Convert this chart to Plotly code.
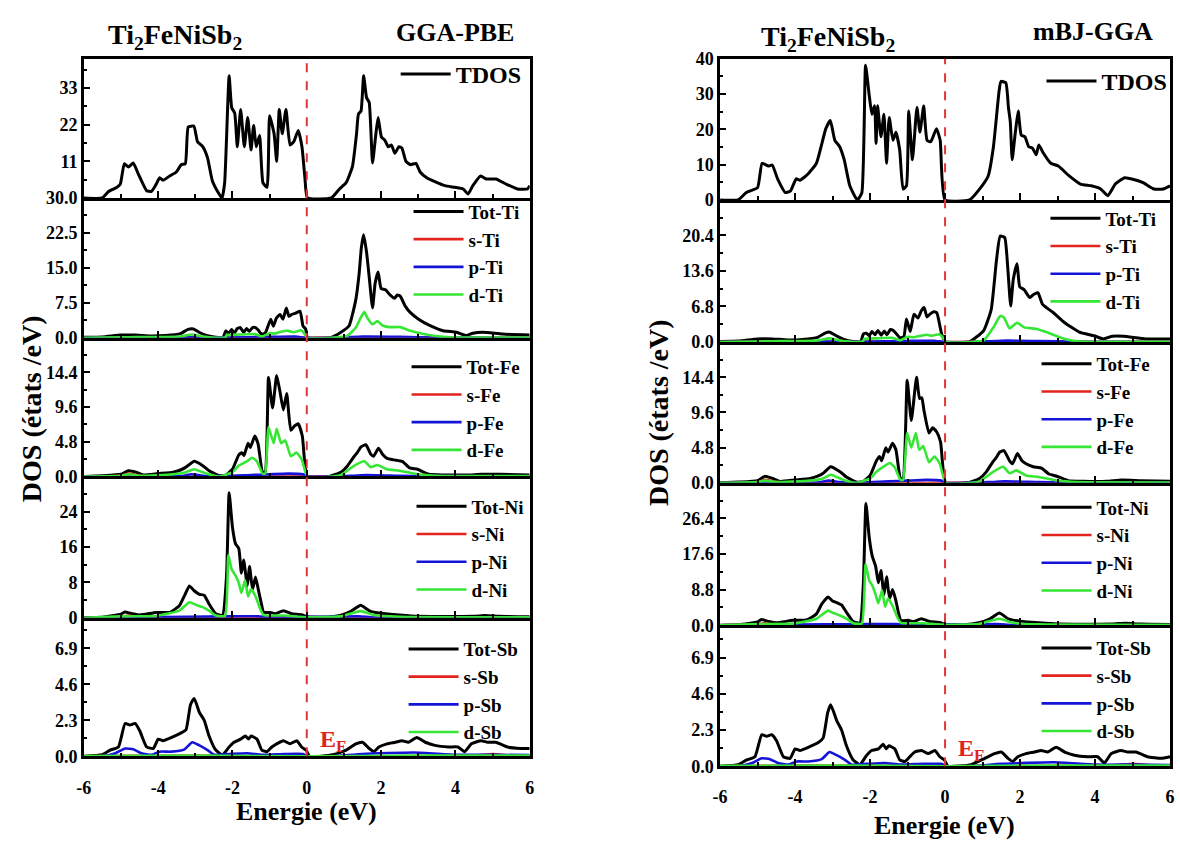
import numpy as np
import plotly.graph_objects as go

# ------------------------------------------------------------------ data
# ---- GGA-PBE (left column)
L_TDOS_E = [-6, -5.51, -5.33, -5.11, -5.02, -4.91, -4.80, -4.67, -4.53, -4.31, -4.18, -4.05, -3.96, -3.87,
            -3.69, -3.51, -3.38, -3.27, -3.19, -3.04, -2.94, -2.80, -2.67, -2.54, -2.36, -2.28, -2.21, -2.09,
            -2.02, -1.94, -1.87, -1.78, -1.68, -1.59, -1.50, -1.43, -1.36, -1.27, -1.18, -1.07, -1.00, -0.88,
            -0.81, -0.74, -0.66, -0.56, -0.45, -0.35, -0.23, -0.13, -0.05, 0.02, 0.66, 0.88, 1.06, 1.23, 1.34,
            1.39, 1.46, 1.53, 1.61, 1.68, 1.77, 1.86, 1.92, 2.01, 2.10, 2.19, 2.28, 2.37, 2.48, 2.56, 2.67,
            2.79, 2.94, 3.05, 3.23, 3.45, 3.72, 3.98, 4.21, 4.34, 4.47, 4.68, 4.83, 5.09, 5.36, 5.67, 5.94, 6.0]
L_TDOS = [0, 0, 2.0, 3.2, 4.1, 10.3, 9.3, 10.5, 7.1, 2.2, 2.0, 4.2, 6.1, 5.3,
          6.6, 7.8, 10.0, 10.3, 21.3, 21.6, 16.9, 15.4, 12.0, 5.1, 1.2, 0, 4.6, 36.7,
          27.1, 25.5, 15.4, 26.6, 15.4, 24.2, 14.4, 21.8, 15.4, 18.8, 4.6, 3.2, 24.7, 19.3,
          11.0, 26.6, 19.3, 26.6, 15.9, 16.9, 20.3, 15.4, 6.1, 0, 0, 2.7, 4.6, 9.5, 19.3,
          25.2, 26.1, 36.7, 30.1, 28.7, 10.5, 19.3, 24.2, 18.3, 17.4, 15.4, 15.9, 13.4, 15.4, 15.0, 11.0,
          10.0, 10.4, 7.8, 6.1, 4.9, 3.7, 3.2, 2.7, 1.2, 3.7, 6.6, 5.7, 5.7, 4.2, 2.7, 2.7, 3.7]

L_TI_E = [-6, -5.5, -5.0, -4.6, -4.2, -3.8, -3.4, -3.2, -3.05, -2.9, -2.7, -2.45, -2.25, -2.18, -2.1, -2.02,
          -1.95, -1.87, -1.79, -1.7, -1.62, -1.55, -1.46, -1.38, -1.3, -1.22, -1.12, -0.97, -0.9, -0.82,
          -0.72, -0.64, -0.55, -0.48, -0.41, -0.3, -0.18, -0.1, -0.03, 0.02, 0.66, 0.92, 1.14, 1.32, 1.41,
          1.47, 1.53, 1.61, 1.68, 1.77, 1.84, 1.92, 2.0, 2.12, 2.24, 2.36, 2.44, 2.52, 2.65, 2.79, 3.01,
          3.32, 3.67, 4.03, 4.29, 4.47, 4.74, 5.27, 6.0]
L_TI_TOT = [0.1, 0.2, 0.6, 0.6, 0.4, 0.5, 0.9, 1.8, 1.9, 1.2, 0.5, 0.1, 0.1, 1.5, 1.0, 1.8,
            1.0, 2.0, 2.2, 1.2, 2.0, 1.4, 2.2, 2.2, 1.6, 0.8, 1.0, 4.0, 2.5, 4.2,
            5.0, 4.0, 6.4, 4.6, 5.0, 5.3, 5.7, 2.5, 1.9, 0, 0.1, 1.2, 2.6, 8.2, 13.8,
            19.4, 22.1, 18.3, 13.1, 6.4, 11.7, 14.1, 10.6, 10.3, 9.2, 8.5, 9.2, 8.9, 6.8, 5.4, 4.0,
            2.6, 1.5, 1.2, 0.5, 1.0, 1.2, 0.8, 0.6]
L_TI_D_E = [-6, -5, -4.6, -3.4, -3.1, -2.8, -2.4, -2.2, -2.15, -1.8, -1.4, -1.2, -1.0, -0.85, -0.7, -0.5,
            -0.35, -0.15, -0.05, 0.02, 0.7, 0.83, 1.09, 1.32, 1.45, 1.55, 1.63, 1.77, 1.90, 2.03, 2.21,
            2.52, 2.79, 3.14, 3.67, 4.2, 6.0]
L_TI_D = [0, 0.1, 0.15, 0.3, 0.7, 0.3, 0, 0.1, 0.6, 0.7, 0.8, 0.3, 1.0, 0.9, 1.3, 1.5,
          1.2, 1.6, 0.8, 0, 0, 0.1, 0.4, 2.2, 4.3, 5.6, 4.3, 2.9, 3.6, 2.7, 2.3,
          2.3, 1.5, 0.8, 0.2, 0.05, 0.05]
L_TI_P_E = [-6, -3.2, -2.2, -1.0, -0.3, 0.0, 0.9, 1.5, 2.5, 3.5, 6.0]
L_TI_P = [0, 0.1, 0.05, 0.2, 0.25, 0, 0.05, 0.25, 0.2, 0.05, 0]
L_TI_S_E = [-6, -4.8, 0.0, 1.5, 6.0]
L_TI_S = [0, 0.05, 0, 0.05, 0.02]

L_FE_E = [-6, -5.5, -5.0, -4.8, -4.6, -4.4, -4.0, -3.6, -3.4, -3.25, -3.03, -2.80, -2.63, -2.36, -2.18,
          -2.0, -1.83, -1.75, -1.69, -1.58, -1.52, -1.40, -1.31, -1.19, -1.12, -1.03, -0.92, -0.81, -0.72,
          -0.63, -0.54, -0.43, -0.33, -0.23, -0.12, 0.02, 0.6, 0.92, 1.1, 1.28, 1.36, 1.46, 1.59, 1.72,
          1.80, 1.93, 2.05, 2.16, 2.35, 2.57, 2.77, 2.98, 3.28, 3.69, 4.3, 4.71, 5.22, 6.0]
L_FE_TOT = [0, 0.1, 0.3, 0.8, 0.6, 0.2, 0.4, 0.6, 0.9, 1.3, 2.1, 1.5, 0.8, 0.1, 0.2,
            1.0, 3.0, 3.3, 2.9, 4.6, 4.0, 5.6, 4.5, 0.6, 0.6, 13.7, 9.5, 14.0, 11.7,
            9.2, 11.5, 6.4, 7.0, 7.3, 5.6, 0, 0, 0.6, 1.5, 2.8, 3.3, 4.1, 4.4, 3.1,
            2.8, 3.9, 3.0, 2.5, 2.3, 2.1, 1.2, 1.0, 0.3, 0.2, 0.2, 0.3, 0.3, 0.2]
L_FE_D_E = [-6, -5.0, -4.8, -4.5, -3.6, -3.25, -3.03, -2.71, -2.36, -2.0, -1.83, -1.61, -1.47, -1.34,
            -1.19, -1.12, -1.03, -0.89, -0.81, -0.69, -0.58, -0.43, -0.28, -0.14, 0.02, 0.7, 0.92, 1.28,
            1.55, 1.72, 1.9, 2.16, 2.5, 3.0, 3.5, 6.0]
L_FE_D = [0, 0.1, 0.3, 0.1, 0.3, 0.6, 1.0, 0.4, 0, 0.6, 1.5, 2.1, 2.6, 2.1,
          0.4, 0.4, 6.8, 4.6, 6.6, 4.6, 5.0, 2.8, 3.3, 2.4, 0, 0, 0.2, 1.5,
          2.1, 1.3, 1.6, 1.0, 0.8, 0.3, 0.1, 0.05]
L_FE_S_E = [-6, -5.0, -4.8, -4.6, -4.3, 0.0, 6.0]
L_FE_S = [0, 0.1, 0.4, 0.2, 0, 0, 0]
L_FE_P_E = [-6, -3.4, -3.1, -2.8, -2.2, -1.5, -1.0, -0.5, -0.1, 0.02, 1.2, 1.6, 2.5, 3.2, 6.0]
L_FE_P = [0, 0.05, 0.3, 0.1, 0.05, 0.2, 0.3, 0.4, 0.3, 0, 0.1, 0.2, 0.1, 0.05, 0]

L_NI_E = [-6, -5.5, -5.0, -4.9, -4.7, -4.5, -4.05, -3.69, -3.43, -3.29, -3.16, -3.03, -2.89, -2.76, -2.63,
          -2.45, -2.27, -2.16, -2.09, -2.0, -1.92, -1.83, -1.76, -1.70, -1.60, -1.54, -1.46, -1.38, -1.30,
          -1.22, -1.16, -0.98, -0.85, -0.63, -0.41, -0.14, 0.0, 0.5, 0.9, 1.2, 1.45, 1.7, 2.0, 2.5, 3.0,
          4.5, 4.8, 5.2, 6.0]
L_NI_TOT = [0, 0.1, 0.8, 1.3, 0.9, 0.6, 1.2, 1.2, 2.7, 5.0, 7.2, 6.1, 5.3, 5.1, 3.1,
            0.9, 0.5, 9.4, 28.3, 20.5, 16.8, 15.7, 10.1, 13.1, 7.2, 11.6, 6.4, 9.2, 6.2,
            3.1, 1.2, 1.2, 0.9, 1.6, 0.9, 0.7, 0.2, 0.1, 0.5, 1.5, 2.8, 1.5, 1.0, 0.6, 0.3,
            0.3, 0.5, 0.3, 0.2]
L_NI_D_E = [-6, -5, -4.05, -3.43, -3.16, -2.98, -2.80, -2.63, -2.45, -2.2, -2.11, -2.02, -1.92, -1.83,
            -1.76, -1.66, -1.58, -1.50, -1.38, -1.25, -1.16, -0.6, 0.0, 0.9, 1.45, 1.8, 2.5, 6.0]
L_NI_D = [0, 0.3, 0.4, 1.6, 3.5, 2.9, 2.4, 1.6, 0.5, 0.4, 14.2, 10.9, 9.6, 7.9,
          5.6, 8.5, 4.8, 6.5, 4.9, 1.9, 0.6, 0.5, 0.1, 0.3, 1.5, 0.6, 0.2, 0.1]
L_NI_S_E = [-6, -5.0, -4.8, -4.6, -4.3, 6.0]
L_NI_S = [0, 0.2, 0.5, 0.2, 0, 0]
L_NI_P_E = [-6, -3.2, -2.1, -1.3, -1.0, 1.4, 1.8, 6.0]
L_NI_P = [0, 0.2, 0.3, 0.3, 0.05, 0.3, 0.05, 0]

L_SB_E = [-6, -5.51, -5.29, -5.07, -4.89, -4.76, -4.62, -4.49, -4.31, -4.13, -4.0, -3.87, -3.65, -3.38,
          -3.25, -3.13, -3.03, -2.89, -2.76, -2.63, -2.45, -2.27, -2.09, -1.96, -1.78, -1.65, -1.57, -1.50,
          -1.34, -1.21, -1.07, -0.94, -0.81, -0.63, -0.45, -0.27, -0.14, -0.02, 0.08, 0.70, 1.06, 1.32,
          1.50, 1.68, 1.81, 1.94, 2.16, 2.39, 2.56, 2.74, 2.96, 3.19, 3.45, 3.81, 4.07, 4.25, 4.43, 4.69,
          4.87, 5.09, 5.40, 5.76, 6.0]
L_SB_TOT = [0, 0.1, 0.4, 0.6, 2.1, 2.0, 2.1, 1.6, 0.6, 0.5, 1.1, 1.0, 1.2, 1.5,
            1.7, 3.3, 3.7, 2.8, 2.3, 1.3, 0.4, 0.1, 0.6, 0.9, 1.1, 1.3, 1.1, 1.3,
            1.1, 0.4, 0.3, 0.6, 0.8, 1.0, 0.8, 1.0, 0.6, 0.4, 0, 0.1, 0.4, 0.8,
            0.9, 0.5, 0.3, 0.6, 0.8, 0.9, 1.0, 0.9, 1.2, 0.9, 0.7, 0.6, 0.6, 0.3, 0.8, 1.0,
            0.9, 0.9, 0.6, 0.5, 0.5]
L_SB_P_E = [-6, -5.51, -5.15, -4.89, -4.67, -4.45, -4.18, -3.96, -3.65, -3.29, -3.08, -2.89, -2.67, -2.49,
            -2.09, -1.6, -1.2, -0.6, -0.1, 0.05, 0.7, 1.5, 2.9, 4.0, 5.0, 6.0]
L_SB_P = [0, 0, 0.2, 0.5, 0.45, 0.2, 0.1, 0.3, 0.3, 0.45, 0.9, 0.7, 0.4, 0.1,
          0.15, 0.2, 0.1, 0.15, 0.15, 0, 0, 0.15, 0.25, 0.1, 0.1, 0.08]
L_SB_S_E = [-6, -5, -3, 0, 4.5, 5.0, 5.5, 6]
L_SB_S = [0, 0.03, 0.05, 0, 0.05, 0.15, 0.05, 0.03]
L_SB_D_E = [-6, -3, 0, 3, 6]
L_SB_D = [0.02, 0.05, 0, 0.05, 0.05]

# ---- mBJ-GGA (right column)
R_TDOS_E = [-6, -5.52, -5.30, -5.00, -4.88, -4.71, -4.61, -4.46, -4.26, -4.12, -3.97, -3.87, -3.67, -3.43,
            -3.18, -3.06, -2.94, -2.81, -2.69, -2.54, -2.34, -2.22, -2.12, -2.02, -1.95, -1.88, -1.84, -1.80,
            -1.71, -1.63, -1.56, -1.49, -1.39, -1.31, -1.21, -1.12, -1.03, -0.97, -0.87, -0.75, -0.67, -0.57,
            -0.48, -0.38, -0.23, -0.13, 0.0, 0.65, 0.95, 1.15, 1.29, 1.44, 1.49, 1.62, 1.69, 1.74, 1.79, 1.87,
            1.95, 2.03, 2.13, 2.23, 2.33, 2.43, 2.50, 2.62, 2.82, 3.02, 3.31, 3.61, 3.90, 4.15, 4.34, 4.54,
            4.79, 5.03, 5.28, 5.57, 5.82, 6.0]
R_TDOS = [0, 0, 2.1, 3.5, 10.4, 9.6, 9.9, 5.8, 2.1, 2.6, 6.0, 5.6, 7.2, 10.4,
          20.2, 22.5, 16.9, 15.1, 11.4, 4.0, 0, 2.0, 38.2, 29.4, 24.3, 26.7, 16.0, 26.7,
          17.9, 24.3, 10.4, 23.4, 16.9, 19.2, 14.2, 3.1, 4.0, 25.2, 11.4, 26.2, 19.2, 26.6,
          16.9, 16.5, 20.2, 16.9, 0, 0, 3.5, 6.8, 15.1, 30.8, 33.6, 33.2, 26.2, 22.1, 11.4, 18.8,
          25.2, 18.4, 17.9, 15.1, 14.7, 12.8, 15.6, 13.3, 10.4, 9.6, 6.8, 4.5, 4.0, 3.1, 1.2, 4.5,
          6.3, 5.8, 4.9, 3.1, 3.1, 4.0]

R_TI_E = [-6, -5.5, -5.0, -4.6, -4.2, -3.8, -3.4, -3.2, -3.09, -2.9, -2.7, -2.45, -2.25, -2.18, -2.1, -2.02,
          -1.95, -1.87, -1.79, -1.7, -1.62, -1.55, -1.46, -1.38, -1.3, -1.2, -1.1, -1.03, -0.93, -0.83,
          -0.72, -0.64, -0.56, -0.48, -0.41, -0.3, -0.22, -0.09, 0.02, 0.64, 1.03, 1.23, 1.37, 1.47, 1.59,
          1.67, 1.75, 1.82, 1.92, 1.99, 2.11, 2.26, 2.36, 2.48, 2.60, 2.89, 3.19, 3.58, 3.97, 4.22, 4.46,
          4.76, 5.35, 6.0]
R_TI_TOT = [0.1, 0.2, 0.6, 0.6, 0.4, 0.5, 0.9, 1.7, 1.9, 1.2, 0.5, 0.1, 0.1, 1.5, 1.7, 1.2,
            2.0, 1.4, 2.2, 1.3, 2.1, 1.4, 2.4, 2.2, 1.6, 0.8, 1.0, 4.4, 2.0, 5.3,
            4.6, 5.9, 6.6, 4.8, 5.3, 5.8, 5.6, 1.5, 0, 0, 2.2, 6.2, 15.6, 20.3, 20.0,
            14.4, 6.9, 12.0, 15.0, 10.6, 10.0, 8.5, 9.1, 9.4, 7.2, 5.6, 3.7, 1.9, 1.2, 0.6, 1.1,
            1.1, 0.6, 0.6]
R_TI_D_E = [-6, -5, -4.6, -3.4, -3.1, -2.8, -2.4, -2.2, -2.15, -1.8, -1.4, -1.2, -1.0, -0.85, -0.64,
            -0.5, -0.35, -0.15, -0.05, 0.02, 0.7, 1.03, 1.29, 1.47, 1.57, 1.72, 1.92, 2.11, 2.45, 2.7,
            3.19, 3.58, 6.0]
R_TI_D = [0, 0.1, 0.15, 0.3, 0.7, 0.3, 0, 0.1, 0.6, 0.7, 0.8, 0.3, 1.0, 0.9, 1.2,
          1.4, 1.2, 1.5, 0.8, 0, 0, 0.3, 2.8, 5.0, 4.7, 2.6, 3.7, 2.8, 2.5, 1.9,
          0.6, 0.1, 0.05]
R_TI_P_E = [-6, -3.2, -2.2, -1.0, -0.3, 0.0, 0.9, 1.5, 2.5, 3.5, 6.0]
R_TI_P = [0, 0.1, 0.05, 0.2, 0.25, 0, 0.05, 0.25, 0.2, 0.05, 0]
R_TI_S_E = [-6, -4.8, 0.0, 1.5, 6.0]
R_TI_S = [0, 0.05, 0, 0.05, 0.02]

R_FE_E = [-6, -5.5, -5.0, -4.8, -4.6, -4.4, -4.0, -3.6, -3.4, -3.25, -3.05, -2.80, -2.63, -2.36, -2.18,
          -2.0, -1.83, -1.75, -1.69, -1.58, -1.52, -1.40, -1.31, -1.19, -1.12, -1.01, -0.90, -0.76, -0.68,
          -0.62, -0.56, -0.43, -0.33, -0.23, -0.12, 0.02, 0.6, 0.92, 1.1, 1.28, 1.36, 1.46, 1.57, 1.72,
          1.80, 1.93, 2.05, 2.16, 2.35, 2.57, 2.77, 2.98, 3.28, 3.69, 4.3, 4.71, 5.22, 6.0]
R_FE_TOT = [0, 0.1, 0.3, 0.9, 0.6, 0.2, 0.4, 0.6, 0.9, 1.3, 2.2, 1.5, 0.8, 0.1, 0.2,
            1.0, 3.0, 3.6, 3.0, 4.8, 4.2, 5.4, 4.5, 0.6, 0.6, 14.0, 8.5, 14.4, 11.5,
            11.6, 9.8, 6.8, 7.5, 7.0, 5.6, 0, 0, 0.6, 1.5, 2.9, 3.4, 4.2, 4.4, 3.0,
            2.6, 4.0, 3.0, 2.6, 2.2, 2.0, 1.2, 0.9, 0.3, 0.2, 0.2, 0.4, 0.3, 0.2]
R_FE_D_E = [-6, -5.0, -4.8, -4.5, -3.6, -3.25, -3.05, -2.71, -2.36, -2.0, -1.83, -1.61, -1.47, -1.34,
            -1.19, -1.12, -1.01, -0.90, -0.78, -0.69, -0.58, -0.43, -0.28, -0.14, 0.02, 0.7, 0.92, 1.28,
            1.55, 1.72, 1.9, 2.16, 2.5, 3.0, 3.5, 6.0]
R_FE_D = [0, 0.1, 0.3, 0.1, 0.3, 0.6, 1.1, 0.4, 0, 0.6, 1.5, 2.3, 2.7, 2.1,
          0.4, 0.4, 6.8, 4.8, 6.8, 4.5, 5.0, 2.8, 3.6, 2.6, 0, 0, 0.2, 1.5,
          2.2, 1.3, 1.7, 1.0, 0.8, 0.3, 0.1, 0.05]
R_FE_S_E = [-6, -5.0, -4.8, -4.6, -4.3, 0.0, 6.0]
R_FE_S = [0, 0.1, 0.4, 0.2, 0, 0, 0]
R_FE_P_E = [-6, -3.4, -3.1, -2.8, -2.2, -1.5, -1.0, -0.5, -0.1, 0.02, 1.2, 1.6, 2.5, 3.2, 6.0]
R_FE_P = [0, 0.05, 0.3, 0.1, 0.05, 0.2, 0.3, 0.4, 0.3, 0, 0.1, 0.2, 0.1, 0.05, 0]

R_NI_E = [-6, -5.5, -5.0, -4.9, -4.7, -4.5, -4.05, -3.69, -3.43, -3.29, -3.12, -3.0, -2.89, -2.76, -2.63,
          -2.45, -2.27, -2.18, -2.11, -2.02, -1.94, -1.85, -1.78, -1.71, -1.63, -1.56, -1.48, -1.40, -1.32,
          -1.24, -1.18, -0.98, -0.85, -0.63, -0.41, -0.14, 0.0, 0.5, 0.9, 1.2, 1.45, 1.7, 2.0, 2.5, 3.0,
          4.5, 4.8, 5.2, 6.0]
R_NI_TOT = [0, 0.1, 0.8, 1.4, 0.9, 0.6, 1.2, 1.3, 2.8, 5.2, 7.0, 6.0, 5.6, 5.0, 3.2,
            0.9, 0.5, 10.0, 30.1, 21.5, 17.0, 14.5, 10.5, 13.5, 7.5, 12.0, 6.6, 8.8, 6.4,
            3.0, 1.2, 1.2, 0.9, 1.6, 0.9, 0.7, 0.2, 0.1, 0.6, 1.6, 3.0, 1.5, 1.0, 0.6, 0.3,
            0.3, 0.5, 0.3, 0.2]
R_NI_D_E = [-6, -5, -4.05, -3.43, -3.12, -2.98, -2.80, -2.63, -2.45, -2.22, -2.12, -2.02, -1.94, -1.85,
            -1.78, -1.68, -1.6, -1.52, -1.40, -1.27, -1.18, -0.6, 0.0, 0.9, 1.45, 1.8, 2.5, 6.0]
R_NI_D = [0, 0.3, 0.4, 1.6, 3.6, 3.0, 2.4, 1.6, 0.5, 0.4, 15.1, 11.0, 9.8, 7.5,
          5.4, 8.6, 4.6, 6.6, 4.8, 1.9, 0.6, 0.5, 0.1, 0.3, 1.6, 0.6, 0.2, 0.1]
R_NI_S_E = [-6, -5.0, -4.8, -4.6, -4.3, 6.0]
R_NI_S = [0, 0.2, 0.5, 0.2, 0, 0]
R_NI_P_E = [-6, -3.2, -2.1, -1.3, -1.0, 1.4, 1.8, 6.0]
R_NI_P = [0, 0.2, 0.3, 0.3, 0.05, 0.3, 0.05, 0]

R_SB_E = [-6, -5.51, -5.29, -5.07, -4.89, -4.76, -4.62, -4.49, -4.31, -4.13, -4.0, -3.87, -3.65, -3.38,
          -3.25, -3.13, -3.05, -2.89, -2.76, -2.63, -2.45, -2.27, -2.09, -1.96, -1.78, -1.65, -1.57, -1.50,
          -1.34, -1.21, -1.07, -0.94, -0.81, -0.63, -0.45, -0.27, -0.14, -0.02, 0.08, 0.70, 1.06, 1.32,
          1.50, 1.68, 1.81, 1.94, 2.16, 2.39, 2.56, 2.74, 2.96, 3.19, 3.45, 3.81, 4.07, 4.25, 4.43, 4.69,
          4.87, 5.09, 5.40, 5.76, 6.0]
R_SB_TOT = [0, 0.1, 0.4, 0.6, 2.0, 1.9, 2.0, 1.6, 0.6, 0.5, 1.1, 1.0, 1.2, 1.5,
            1.8, 3.4, 3.9, 2.9, 2.3, 1.3, 0.4, 0.1, 0.7, 1.0, 1.1, 1.4, 1.1, 1.3,
            1.1, 0.4, 0.3, 0.6, 0.9, 1.0, 0.8, 1.0, 0.6, 0.4, 0, 0.1, 0.5, 0.8,
            0.9, 0.5, 0.3, 0.6, 0.8, 0.9, 1.0, 0.9, 1.2, 0.9, 0.7, 0.6, 0.6, 0.2, 0.8, 1.0,
            0.9, 0.9, 0.6, 0.5, 0.6]
R_SB_P_E = [-6, -5.51, -5.15, -4.89, -4.67, -4.45, -4.18, -3.96, -3.65, -3.29, -3.08, -2.89, -2.67, -2.49,
            -2.09, -1.6, -1.2, -0.6, -0.1, 0.05, 0.7, 1.5, 2.9, 4.0, 5.0, 6.0]
R_SB_P = [0, 0, 0.2, 0.5, 0.45, 0.2, 0.1, 0.3, 0.3, 0.45, 0.9, 0.7, 0.4, 0.1,
          0.15, 0.2, 0.1, 0.15, 0.15, 0, 0, 0.15, 0.25, 0.1, 0.1, 0.08]
R_SB_S_E = [-6, -5, -3, 0, 4.5, 5.0, 5.5, 6]
R_SB_S = [0, 0.03, 0.05, 0, 0.05, 0.15, 0.05, 0.03]
R_SB_D_E = [-6, -3, 0, 3, 6]
R_SB_D = [0.02, 0.05, 0, 0.05, 0.05]

X_TICKS = [-6, -4, -2, 0, 2, 4, 6]
X_TICK_TEXT = ["-6", "-4", "-2", "0", "2", "4", "6"]

# ------------------------------------------------------------------ styling
FONT = "'Liberation Serif', 'Times New Roman', Times, serif"
BLACK, RED, BLUE, GREEN = "#000000", "#e3231d", "#1414d8", "#35e635"
W, H = 1180, 852


def fx(px):
    return px / W


def fy(py):
    return 1 - py / H


LEFT_X = (76.7, 527.5)
RIGHT_X = (720.0, 1175.0)
LEFT_Y = [50, 192.5, 335.7, 477.7, 622.3, 764.3]
RIGHT_Y = [50, 194.5, 340.0, 484.2, 630.0, 774.4]


def comp(el, tot, s, p, d):
    return [("Tot-" + el, tot[0], tot[1], BLACK), ("s-" + el, s[0], s[1], RED),
            ("p-" + el, p[0], p[1], BLUE), ("d-" + el, d[0], d[1], GREEN)]


left_panels = [
    dict(traces=[("TDOS", L_TDOS_E, L_TDOS, BLACK)], rng=[0, 41.8],
         tv=[0, 11, 22, 33], tt=["", "11", "22", "33"], mstep=5.5, leg=(452, 73)),
    dict(traces=comp("Ti", (L_TI_E, L_TI_TOT), (L_TI_S_E, L_TI_S), (L_TI_P_E, L_TI_P), (L_TI_D_E, L_TI_D)),
         rng=[0, 30], tv=[0, 7.5, 15, 22.5, 30], tt=["0.0", "7.5", "15.0", "22.5", "30.0"], mstep=3.75,
         leg=(465, 212)),
    dict(traces=comp("Fe", (L_FE_E, L_FE_TOT), (L_FE_S_E, L_FE_S), (L_FE_P_E, L_FE_P), (L_FE_D_E, L_FE_D)),
         rng=[0, 19.2], tv=[0, 4.8, 9.6, 14.4], tt=["0.0", "4.8", "9.6", "14.4"], mstep=2.4, leg=(463, 371)),
    dict(traces=comp("Ni", (L_NI_E, L_NI_TOT), (L_NI_S_E, L_NI_S), (L_NI_P_E, L_NI_P), (L_NI_D_E, L_NI_D)),
         rng=[0, 32], tv=[0, 8, 16, 24], tt=["0", "8", "16", "24"], mstep=4, leg=(468, 514)),
    dict(traces=comp("Sb", (L_SB_E, L_SB_TOT), (L_SB_S_E, L_SB_S), (L_SB_P_E, L_SB_P), (L_SB_D_E, L_SB_D)),
         rng=[0, 8.85], tv=[0, 2.3, 4.6, 6.9], tt=["0.0", "2.3", "4.6", "6.9"], mstep=1.15, leg=(460, 660)),
]
right_panels = [
    dict(traces=[("TDOS", R_TDOS_E, R_TDOS, BLACK)], rng=[0, 40],
         tv=[0, 10, 20, 30, 40], tt=["0", "10", "20", "30", "40"], mstep=5, leg=(1105, 80)),
    dict(traces=comp("Ti", (R_TI_E, R_TI_TOT), (R_TI_S_E, R_TI_S), (R_TI_P_E, R_TI_P), (R_TI_D_E, R_TI_D)),
         rng=[0, 27.2], tv=[0, 6.8, 13.6, 20.4], tt=["0.0", "6.8", "13.6", "20.4"], mstep=3.4, leg=(1109, 219)),
    dict(traces=comp("Fe", (R_FE_E, R_FE_TOT), (R_FE_S_E, R_FE_S), (R_FE_P_E, R_FE_P), (R_FE_D_E, R_FE_D)),
         rng=[0, 19.2], tv=[0, 4.8, 9.6, 14.4], tt=["0.0", "4.8", "9.6", "14.4"], mstep=2.4, leg=(1100, 368)),
    dict(traces=comp("Ni", (R_NI_E, R_NI_TOT), (R_NI_S_E, R_NI_S), (R_NI_P_E, R_NI_P), (R_NI_D_E, R_NI_D)),
         rng=[0, 35.2], tv=[0, 8.8, 17.6, 26.4], tt=["0.0", "8.8", "17.6", "26.4"], mstep=4.4, leg=(1100, 515)),
    dict(traces=comp("Sb", (R_SB_E, R_SB_TOT), (R_SB_S_E, R_SB_S), (R_SB_P_E, R_SB_P), (R_SB_D_E, R_SB_D)),
         rng=[0, 8.95], tv=[0, 2.3, 4.6, 6.9], tt=["0.0", "2.3", "4.6", "6.9"], mstep=1.15, leg=(1100, 659)),
]

fig = go.Figure()
layout = dict(width=W, height=H, margin=dict(l=0, r=0, t=0, b=0), paper_bgcolor="white",
              plot_bgcolor="white", showlegend=True, font=dict(family=FONT, color="black"))

tickfont = dict(family=FONT, size=18, color="black", weight="bold")
LW = 2.6
ITEMW = 50

idx = 0
for col, (panels, xs, ys) in enumerate([(left_panels, LEFT_X, LEFT_Y), (right_panels, RIGHT_X, RIGHT_Y)]):
    for k, p in enumerate(panels):
        idx += 1
        sfx = "" if idx == 1 else str(idx)
        legname = "legend" + sfx
        for j, (name, e, d, color) in enumerate(p["traces"]):
            fig.add_trace(go.Scatter(
                x=e, y=d, mode="lines", name="<b>%s</b>" % name,
                line=dict(color=color, width=3 if color == BLACK else 2.6, shape="spline", smoothing=0.45),
                xaxis="x" + sfx, yaxis="y" + sfx, legend=legname,
                legendgroup="g%d_%d" % (idx, j), hoverinfo="skip"))
        bottom = (k == len(panels) - 1)
        top = (k == 0)
        layout["xaxis" + sfx] = dict(
            domain=[fx(xs[0]), fx(xs[1])], anchor="y" + sfx, range=[-6, 6],
            showline=True, linecolor="black", linewidth=LW, mirror=top,
            ticks="inside", ticklen=7, tickwidth=2, tickcolor="black",
            tickmode="array", tickvals=X_TICKS, ticktext=X_TICK_TEXT,
            showticklabels=bottom, tickfont=tickfont, ticklabelstandoff=13 if col == 0 else 12,
            minor=dict(tickmode="array", tickvals=[-5, -3, -1, 1, 3, 5], ticks="inside",
                       ticklen=4, tickwidth=1.5, tickcolor="black", showgrid=False),
            showgrid=False, zeroline=False, fixedrange=True)
        mvals = [v for v in np.arange(0, p["rng"][1] + 1e-9, p["mstep"]) if v not in p["tv"]]
        layout["yaxis" + sfx] = dict(
            domain=[fy(ys[k + 1]), fy(ys[k])], anchor="x" + sfx, range=p["rng"],
            showline=True, linecolor="black", linewidth=LW, mirror=True,
            ticks="inside", ticklen=6, tickwidth=2, tickcolor="black",
            tickmode="array", tickvals=p["tv"], ticktext=p["tt"], tickfont=tickfont,
            minor=dict(tickmode="array", tickvals=mvals, ticks="inside", ticklen=3.5,
                       tickwidth=1.5, tickcolor="black", showgrid=False),
            showgrid=False, zeroline=False, fixedrange=True)
        tx, ty = p["leg"]
        single = len(p["traces"]) == 1
        layout[legname] = dict(
            x=fx(tx - ITEMW - 10), y=fy(ty - (30 if single else 25)), xanchor="left", yanchor="top",
            bgcolor="rgba(0,0,0,0)", borderwidth=0, tracegroupgap=0, itemwidth=ITEMW,
            font=dict(family=FONT, size=24 if single else 19, color="black"),
            itemclick=False, itemdoubleclick=False)

fig.update_layout(**layout)

# Fermi level dashed lines
for xref, ys in (("x", LEFT_Y), ("x6", RIGHT_Y)):
    fig.add_shape(type="line", xref=xref, yref="paper", x0=0, x1=0,
                  y0=fy(ys[-1]), y1=fy(ys[0]), line=dict(color="#e0383a", width=2, dash="dash"),
                  layer="above")

ann = []
titlefont = dict(family=FONT, size=28, color="black")
ann.append(dict(text="<b>Ti<sub>2</sub>FeNiSb<sub>2</sub></b>", x=fx(169), y=fy(27), font=titlefont))
ann.append(dict(text="<b>GGA-PBE</b>", x=fx(452), y=fy(23), font=dict(family=FONT, size=26, color="black")))
ann.append(dict(text="<b>Ti<sub>2</sub>FeNiSb<sub>2</sub></b>", x=fx(829), y=fy(29), font=titlefont))
ann.append(dict(text="<b>mBJ-GGA</b>", x=fx(1097), y=fy(22), font=dict(family=FONT, size=26, color="black")))
ann.append(dict(text="<b>DOS (états /eV)</b>", x=fx(24), y=fy(408), textangle=-90,
                font=dict(family=FONT, size=28, color="black")))
ann.append(dict(text="<b>DOS (états /eV)</b>", x=fx(658), y=fy(412), textangle=-90,
                font=dict(family=FONT, size=28, color="black")))
ann.append(dict(text="<b>Energie (eV)</b>", x=fx(302), y=fy(821), font=dict(family=FONT, size=26, color="black")))
ann.append(dict(text="<b>Energie (eV)</b>", x=fx(947), y=fy(835), font=dict(family=FONT, size=26, color="black")))
for a in ann:
    a.update(xref="paper", yref="paper", showarrow=False, xanchor="center", yanchor="middle")
    fig.add_annotation(**a)

for xr, yr in (("x5", "y5"), ("x10", "y10")):
    fig.add_annotation(text="<b>E<sub>F</sub></b>", xref=xr, yref=yr, x=0.3, y=1.0,
                       xanchor="left", yanchor="middle", showarrow=False,
                       font=dict(family=FONT, size=24, color="#e3231d"))

fig.write_html("out.html")
